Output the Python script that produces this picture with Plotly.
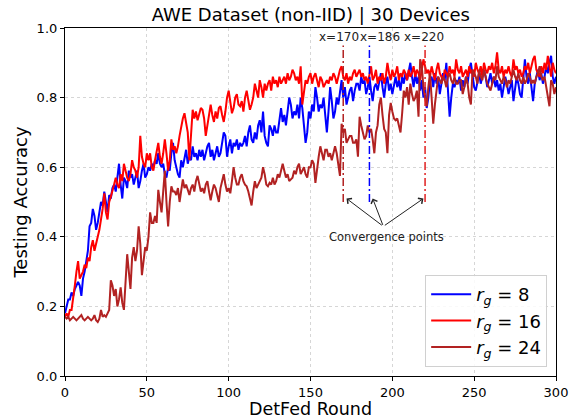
import plotly.graph_objects as go

rounds = list(range(0, 301))

acc_rg8 = [
    0.18, 0.20, 0.22, 0.22, 0.24, 0.23, 0.25, 0.26, 0.27, 0.26, 0.23, 0.28, 0.30, 0.33, 0.36, 0.43, 0.44, 0.48, 0.46, 0.42,
    0.44, 0.47, 0.50, 0.49, 0.53, 0.50, 0.47, 0.52, 0.51, 0.54, 0.55, 0.53, 0.58, 0.61, 0.55, 0.51, 0.57, 0.56, 0.54, 0.59,
    0.57, 0.58, 0.55, 0.57, 0.59, 0.54, 0.56, 0.59, 0.61, 0.57, 0.58, 0.60, 0.59, 0.61, 0.60, 0.62, 0.61, 0.64, 0.61, 0.60,
    0.61, 0.58, 0.57, 0.60, 0.59, 0.64, 0.67, 0.62, 0.60, 0.58, 0.57, 0.62, 0.60, 0.63, 0.65, 0.61, 0.63, 0.62, 0.66, 0.63,
    0.64, 0.62, 0.65, 0.63, 0.65, 0.62, 0.64, 0.66, 0.67, 0.63, 0.65, 0.62, 0.64, 0.66, 0.63, 0.64, 0.67, 0.70, 0.69, 0.63,
    0.66, 0.68, 0.64, 0.67, 0.66, 0.68, 0.65, 0.67, 0.66, 0.67, 0.69, 0.66, 0.70, 0.72, 0.68, 0.67, 0.70, 0.68, 0.72, 0.735,
    0.70, 0.76, 0.69, 0.67, 0.66, 0.72, 0.71, 0.69, 0.72, 0.70, 0.70, 0.74, 0.77, 0.73, 0.75, 0.72, 0.76, 0.80, 0.78, 0.74,
    0.76, 0.75, 0.78, 0.74, 0.80, 0.77, 0.72, 0.67, 0.70, 0.76, 0.74, 0.78, 0.76, 0.83, 0.80, 0.76, 0.78, 0.77, 0.80, 0.74,
    0.70, 0.76, 0.83, 0.79, 0.74, 0.76, 0.80, 0.78, 0.82, 0.85, 0.80, 0.83, 0.78, 0.80, 0.82, 0.83, 0.79, 0.82, 0.84, 0.84,
    0.82, 0.86, 0.84, 0.85, 0.81, 0.83, 0.86, 0.82, 0.79, 0.83, 0.84, 0.82, 0.85, 0.87, 0.83, 0.80, 0.84, 0.86, 0.82, 0.84,
    0.81, 0.84, 0.86, 0.83, 0.85, 0.82, 0.86, 0.84, 0.87, 0.85, 0.88, 0.90, 0.86, 0.83, 0.87, 0.84, 0.86, 0.82, 0.85, 0.80,
    0.83, 0.77, 0.80, 0.85, 0.86, 0.83, 0.87, 0.84, 0.86, 0.81, 0.84, 0.87, 0.85, 0.90, 0.82, 0.745, 0.80, 0.84, 0.83, 0.85,
    0.84, 0.86, 0.82, 0.85, 0.83, 0.86, 0.84, 0.88, 0.90, 0.86, 0.83, 0.82, 0.85, 0.87, 0.84, 0.86, 0.88, 0.86, 0.83, 0.85,
    0.87, 0.84, 0.86, 0.83, 0.85, 0.82, 0.84, 0.80, 0.83, 0.86, 0.84, 0.81, 0.83, 0.85, 0.79, 0.82, 0.86, 0.84, 0.81, 0.80,
    0.85, 0.91, 0.86, 0.84, 0.87, 0.82, 0.79, 0.84, 0.86, 0.88, 0.85, 0.87, 0.84, 0.86, 0.89, 0.87, 0.90, 0.92, 0.86, 0.84, 0.86,
]

acc_rg16 = [
    0.17, 0.18, 0.17, 0.19, 0.19, 0.22, 0.26, 0.30, 0.33, 0.28, 0.29, 0.30, 0.32, 0.31, 0.34, 0.33, 0.37, 0.39, 0.36, 0.38,
    0.40, 0.42, 0.45, 0.48, 0.525, 0.47, 0.45, 0.50, 0.515, 0.53, 0.55, 0.57, 0.55, 0.54, 0.58, 0.56, 0.61, 0.59, 0.57, 0.56,
    0.58, 0.62, 0.60, 0.59, 0.57, 0.60, 0.69, 0.63, 0.61, 0.60, 0.64, 0.62, 0.64, 0.60, 0.59, 0.62, 0.65, 0.67, 0.63, 0.61,
    0.64, 0.68, 0.64, 0.59, 0.62, 0.68, 0.65, 0.66, 0.64, 0.66, 0.69, 0.72, 0.74, 0.755, 0.72, 0.70, 0.62, 0.70, 0.765, 0.74,
    0.76, 0.735, 0.75, 0.77, 0.765, 0.74, 0.69, 0.72, 0.76, 0.78, 0.75, 0.73, 0.76, 0.74, 0.77, 0.775, 0.75, 0.73, 0.76, 0.80,
    0.82, 0.78, 0.755, 0.77, 0.80, 0.81, 0.78, 0.775, 0.79, 0.76, 0.80, 0.82, 0.79, 0.765, 0.78, 0.80, 0.84, 0.82, 0.80, 0.85,
    0.83, 0.80, 0.84, 0.82, 0.84, 0.85, 0.82, 0.86, 0.84, 0.85, 0.83, 0.86, 0.84, 0.85, 0.86, 0.84, 0.87, 0.85, 0.86, 0.88,
    0.87, 0.85, 0.86, 0.84, 0.89, 0.78, 0.82, 0.85, 0.84, 0.86, 0.87, 0.84, 0.86, 0.87, 0.85, 0.83, 0.86, 0.85, 0.83, 0.84,
    0.85, 0.84, 0.86, 0.85, 0.87, 0.86, 0.84, 0.86, 0.88, 0.89, 0.86, 0.85, 0.87, 0.84, 0.86, 0.85, 0.87, 0.88, 0.86, 0.87,
    0.88, 0.86, 0.87, 0.85, 0.86, 0.84, 0.87, 0.89, 0.85, 0.86, 0.88, 0.84, 0.86, 0.85, 0.87, 0.84, 0.86, 0.90, 0.87, 0.85,
    0.88, 0.86, 0.87, 0.89, 0.85, 0.87, 0.86, 0.88, 0.87, 0.85, 0.88, 0.86, 0.87, 0.89, 0.86, 0.88, 0.87, 0.85, 0.88, 0.91,
    0.89, 0.87, 0.88, 0.86, 0.89, 0.87, 0.85, 0.88, 0.90, 0.87, 0.86, 0.85, 0.88, 0.87, 0.86, 0.89, 0.87, 0.88, 0.86, 0.91,
    0.88, 0.87, 0.89, 0.86, 0.87, 0.88, 0.86, 0.89, 0.87, 0.88, 0.86, 0.90, 0.88, 0.87, 0.89, 0.86, 0.90, 0.88, 0.87, 0.89,
    0.88, 0.90, 0.87, 0.89, 0.93, 0.88, 0.87, 0.89, 0.86, 0.88, 0.87, 0.89, 0.87, 0.86, 0.91, 0.88, 0.89, 0.87, 0.88, 0.86,
    0.87, 0.89, 0.88, 0.90, 0.87, 0.89, 0.91, 0.92, 0.88, 0.87, 0.86, 0.89, 0.87, 0.90, 0.88, 0.92, 0.89, 0.86, 0.90, 0.88, 0.87,
]

acc_rg24 = [
    0.17, 0.165, 0.17, 0.16, 0.165, 0.17, 0.165, 0.16, 0.165, 0.17, 0.175, 0.165, 0.16, 0.165, 0.17, 0.165, 0.16, 0.165, 0.175, 0.16,
    0.155, 0.165, 0.19, 0.17, 0.175, 0.17, 0.18, 0.19, 0.275, 0.26, 0.23, 0.25, 0.20, 0.22, 0.255, 0.21, 0.19, 0.27, 0.35, 0.30,
    0.25, 0.34, 0.37, 0.33, 0.36, 0.43, 0.38, 0.29, 0.33, 0.37, 0.36, 0.40, 0.47, 0.44, 0.44, 0.46, 0.44, 0.535, 0.50, 0.47,
    0.53, 0.59, 0.50, 0.43, 0.50, 0.545, 0.53, 0.53, 0.52, 0.54, 0.50, 0.53, 0.565, 0.54, 0.55, 0.535, 0.52, 0.54, 0.55, 0.53,
    0.56, 0.575, 0.55, 0.53, 0.54, 0.525, 0.55, 0.56, 0.53, 0.505, 0.53, 0.55, 0.54, 0.52, 0.50, 0.54, 0.56, 0.58, 0.55, 0.53,
    0.54, 0.525, 0.56, 0.60, 0.57, 0.55, 0.55, 0.57, 0.58, 0.56, 0.55, 0.545, 0.53, 0.51, 0.49, 0.53, 0.56, 0.54, 0.55, 0.56,
    0.57, 0.60, 0.58, 0.55, 0.545, 0.555, 0.55, 0.57, 0.55, 0.56, 0.58, 0.57, 0.59, 0.61, 0.59, 0.57, 0.58, 0.56, 0.565, 0.57,
    0.59, 0.58, 0.60, 0.61, 0.58, 0.59, 0.60, 0.58, 0.57, 0.60, 0.60, 0.62, 0.61, 0.555, 0.60, 0.63, 0.66, 0.64, 0.62, 0.65,
    0.65, 0.63, 0.64, 0.62, 0.64, 0.66, 0.64, 0.60, 0.575, 0.725, 0.70, 0.71, 0.67, 0.68, 0.69, 0.69, 0.67, 0.67, 0.68, 0.63,
    0.745, 0.72, 0.70, 0.68, 0.69, 0.72, 0.70, 0.71, 0.68, 0.64, 0.70, 0.72, 0.78, 0.80, 0.75, 0.71, 0.70, 0.64, 0.75, 0.785,
    0.76, 0.74, 0.735, 0.74, 0.72, 0.70, 0.755, 0.82, 0.80, 0.83, 0.78, 0.84, 0.81, 0.79, 0.80, 0.82, 0.745, 0.91, 0.89, 0.83,
    0.80, 0.775, 0.83, 0.87, 0.80, 0.725, 0.78, 0.83, 0.86, 0.85, 0.84, 0.86, 0.85, 0.83, 0.86, 0.87, 0.85, 0.84, 0.86, 0.84,
    0.84, 0.85, 0.85, 0.81, 0.83, 0.86, 0.84, 0.80, 0.78, 0.88, 0.87, 0.86, 0.84, 0.88, 0.86, 0.85, 0.88, 0.86, 0.84, 0.83,
    0.82, 0.84, 0.86, 0.85, 0.89, 0.86, 0.85, 0.84, 0.86, 0.85, 0.83, 0.85, 0.84, 0.86, 0.88, 0.86, 0.85, 0.87, 0.85, 0.84,
    0.86, 0.84, 0.85, 0.87, 0.86, 0.84, 0.85, 0.84, 0.86, 0.87, 0.89, 0.86, 0.85, 0.86, 0.83, 0.80, 0.775, 0.85, 0.84, 0.81, 0.83,
]

series_names = ["<i>r</i><sub><i>g</i></sub> = 8", "<i>r</i><sub><i>g</i></sub> = 16", "<i>r</i><sub><i>g</i></sub> = 24"]
series_colors = ["#0000ff", "#ff0000", "#b22222"]

conv_x = [170, 186, 220]
conv_colors = ["#b22222", "#0000ff", "#e02020"]
conv_y_range = [0.5, 0.95]
conv_labels = ["x=170", "x=186", "x=220"]
conv_label_x = [167.3, 192.3, 219.6]

x_ticks = [0, 50, 100, 150, 200, 250, 300]
y_ticks = [0.0, 0.2, 0.4, 0.6, 0.8, 1.0]

FONT = "DejaVu Sans"

fig = go.Figure()
for vals, name, col in zip([acc_rg8, acc_rg16, acc_rg24], series_names, series_colors):
    fig.add_trace(go.Scatter(x=rounds, y=vals, mode="lines", name=name,
                             line=dict(color=col, width=2)))

for cx, cc in zip(conv_x, conv_colors):
    fig.add_trace(go.Scatter(x=[cx, cx], y=conv_y_range, mode="lines", showlegend=False,
                             line=dict(color=cc, width=1.5, dash="8px,3px,2px,3px")))

annotations = []
for lx, lab in zip(conv_label_x, conv_labels):
    annotations.append(dict(x=lx, y=0.975, xref="x", yref="y", text=lab, showarrow=False,
                            font=dict(family=FONT, size=12, color="#222"), xanchor="center", yanchor="middle"))

tail_x, tail_y = 194.5, 0.43
for cx in conv_x:
    annotations.append(dict(x=cx + (2 if cx < 190 else -1), y=0.51, xref="x", yref="y",
                            ax=tail_x, ay=tail_y, axref="x", ayref="y", text="",
                            showarrow=True, arrowhead=4, arrowsize=1.3, arrowwidth=1, arrowcolor="#222"))
annotations.append(dict(x=196.5, y=0.40, xref="x", yref="y", text="Convergence points", showarrow=False,
                        font=dict(family=FONT, size=11.5, color="#222"), xanchor="center", yanchor="middle"))

fig.update_layout(
    width=581, height=419,
    margin=dict(l=65, r=25, t=28, b=43),
    paper_bgcolor="white", plot_bgcolor="white",
    font=dict(family=FONT, color="black"),
    title=dict(text="AWE Dataset (non-IID) | 30 Devices", x=0.535, xanchor="center",
               y=1 - 15 / 419, yanchor="middle", yref="container",
               font=dict(family=FONT, size=18, color="black")),
    legend=dict(x=0.982, xanchor="right", y=0.026, yanchor="bottom",
                bgcolor="rgba(255,255,255,0.85)", bordercolor="#d0d0d0", borderwidth=1,
                font=dict(family=FONT, size=18, color="black"), tracegroupgap=0, itemwidth=40),
    annotations=annotations,
    showlegend=True,
)

fig.update_xaxes(range=[0, 300], tickvals=x_ticks, ticktext=[str(v) for v in x_ticks],
                 showline=True, linecolor="black", linewidth=1.2, mirror=True,
                 ticks="outside", ticklen=4, tickcolor="black",
                 showgrid=True, gridcolor="#d6d6d6", griddash="3px,3px", gridwidth=0.8,
                 zeroline=False, tickfont=dict(family=FONT, size=13), automargin=False,
                 title=dict(text="DetFed Round", font=dict(family=FONT, size=17.5), standoff=4))
fig.update_yaxes(range=[0, 1.0], tickvals=y_ticks, ticktext=[f"{v:.1f}" for v in y_ticks],
                 showline=True, linecolor="black", linewidth=1.2, mirror=True,
                 ticks="outside", ticklen=4, tickcolor="black",
                 showgrid=True, gridcolor="#d6d6d6", griddash="3px,3px", gridwidth=0.8,
                 zeroline=False, tickfont=dict(family=FONT, size=13), automargin=False,
                 title=dict(text="Testing Accuracy", font=dict(family=FONT, size=18), standoff=4))

fig.write_html("out.html")
